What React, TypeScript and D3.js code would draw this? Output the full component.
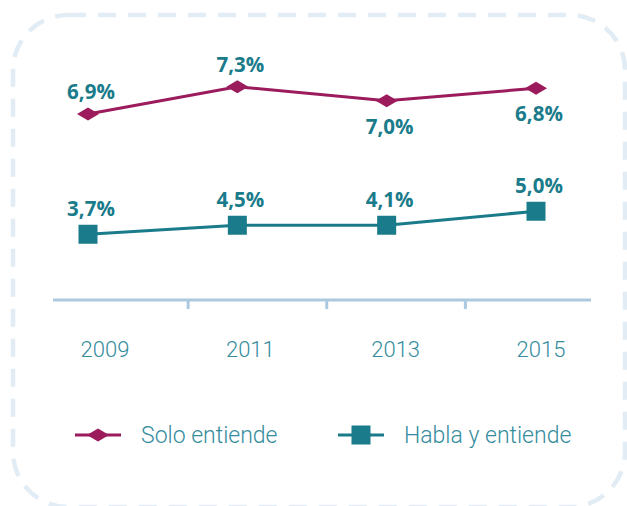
import React from "react";
import * as d3 from "d3";

const years = ["2009", "2011", "2013", "2015"];
// Data labels as printed
const soloLabels = ["6,9%", "7,3%", "7,0%", "6,8%"];
const hablaLabels = ["3,7%", "4,5%", "4,1%", "5,0%"];
// Plotted levels as drawn in the picture (chart units)
const soloLevels = [7.44, 8.53, 7.97, 8.47];
const hablaLevels = [2.63, 2.99, 2.99, 3.55];
const soloLabelSide = ["above", "above", "below", "below"];
const seriesNames = ["Solo entiende", "Habla y entiende"];

const W = 627;
const H = 506;
const MAGENTA = "#9b1b5c";
const TEAL = "#1a7b8b";
const AXIS = "#abcadf";
const TEXT = "#358c9d";
const BORDER = "#e1ecf5";

export default function App() {
  const x = d3.scalePoint<string>().domain(years).range([88, 536]);
  const xLab = d3.scalePoint<string>().domain(years).range([105, 541]);
  const xBand = d3.scaleBand<string>().domain(years).range([49.5, 604]);
  const y = d3.scaleLinear().domain([0, 10]).range([300, 50]);

  const line = d3
    .line<number>()
    .x((_, i) => x(years[i]) as number)
    .y((d) => y(d));

  const dW = 11, dH = 6.5;
  const diamond = `M${-dW},0L0,${-dH}L${dW},0L0,${dH}Z`;
  const sq = 19;

  const labelFont = "'Open Sans', sans-serif";

  return (
    <svg
      width={W}
      height={H}
      style={{ position: "absolute", left: 0, top: 0 }}
      fontFamily="Roboto, sans-serif"
    >
      <rect
        x={13}
        y={15}
        width={612}
        height={492}
        rx={55}
        ry={55}
        fill="none"
        stroke={BORDER}
        strokeWidth={4.5}
        strokeDasharray="18 12"
      />
      {/* axis */}
      <line x1={53} x2={591} y1={y(0)} y2={y(0)} stroke={AXIS} strokeWidth={3} />
      {years.slice(1).map((yr) => (
        <line
          key={yr}
          x1={xBand(yr)}
          x2={xBand(yr)}
          y1={y(0)}
          y2={y(0) + 9}
          stroke={AXIS}
          strokeWidth={3}
        />
      ))}
      {years.map((yr) => (
        <text
          key={yr}
          x={xLab(yr)}
          y={357}
          textAnchor="middle"
          fontSize={22}
          fontWeight={300}
          fill={TEXT}
        >
          {yr}
        </text>
      ))}
      {/* series lines */}
      <path d={line(soloLevels) || ""} fill="none" stroke={MAGENTA} strokeWidth={3} />
      <path d={line(hablaLevels) || ""} fill="none" stroke={TEAL} strokeWidth={3} />
      {soloLevels.map((v, i) => (
        <path
          key={"sd" + i}
          d={diamond}
          transform={`translate(${x(years[i])},${y(v)})`}
          fill={MAGENTA}
        />
      ))}
      {hablaLevels.map((v, i) => (
        <rect
          key={"hs" + i}
          x={(x(years[i]) as number) - sq / 2}
          y={y(v) - sq / 2}
          width={sq}
          height={sq}
          fill={TEAL}
        />
      ))}
      {soloLevels.map((v, i) => (
        <text
          key={"sl" + i}
          x={(x(years[i]) as number) + 3}
          y={soloLabelSide[i] === "above" ? y(v) - 15 : y(v) + 33}
          textAnchor="middle"
          fontFamily={labelFont}
          fontWeight={700}
          fontSize={20.5}
          fill={TEAL}
        >
          {soloLabels[i]}
        </text>
      ))}
      {hablaLevels.map((v, i) => (
        <text
          key={"hl" + i}
          x={(x(years[i]) as number) + 3}
          y={y(v) - 18}
          textAnchor="middle"
          fontFamily={labelFont}
          fontWeight={700}
          fontSize={20.5}
          fill={TEAL}
        >
          {hablaLabels[i]}
        </text>
      ))}
      {/* legend */}
      <g transform="translate(98,435)">
        <line x1={-23} x2={23} y1={0} y2={0} stroke={MAGENTA} strokeWidth={3} />
        <path d={diamond} fill={MAGENTA} />
        <text x={43} y={7.5} fontSize={23} fontWeight={300} fill={TEXT}>
          {seriesNames[0]}
        </text>
      </g>
      <g transform="translate(361,435)">
        <line x1={-23} x2={23} y1={0} y2={0} stroke={TEAL} strokeWidth={3} />
        <rect x={-sq / 2} y={-sq / 2} width={sq} height={sq} fill={TEAL} />
        <text x={43} y={7.5} fontSize={23} fontWeight={300} fill={TEXT}>
          {seriesNames[1]}
        </text>
      </g>
    </svg>
  );
}
